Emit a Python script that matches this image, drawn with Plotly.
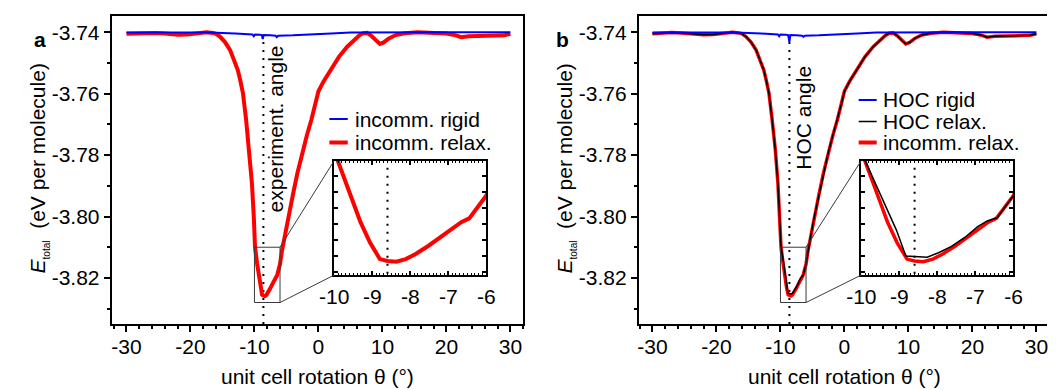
import plotly.graph_objects as go

W, H = 1056, 390
FONT = "Liberation Sans, Arial, sans-serif"
FS = 21

# ---------------- data ----------------
theta_relax = [-30, -28.5, -27, -25.5, -24, -22, -20.5, -19, -17.5, -16.5, -16.0,
               -15.4, -14.6, -13.8, -13.2, -12.6, -12.2, -11.8, -11.3, -10.8, -10.4,
               -10.1, -9.91, -9.57, -9.31, -9.06, -8.80, -8.60, -8.37, -8.12, -7.86,
               -7.52, -7.20, -6.92, -6.66, -6.45, -6.23, -6.0, -5.7, -5.2, -4.7, -4.0,
               -3.3, -2.5, -1.8, -1.1, -0.5, 0.0, 0.8, 1.9, 3.2, 4.5, 5.6, 6.4, 7.0,
               7.6, 8.3, 9.0, 9.6, 10.2, 11.0, 12.1, 13.5, 15.5, 18.0, 20.0, 21.5,
               22.3, 23.5, 25.0, 27.5, 29.0, 30.0]
e_relax = [-3.7405, -3.7403, -3.7401, -3.7402, -3.7404, -3.7408, -3.7407, -3.7403,
           -3.7400, -3.7402, -3.7405,
           -3.7414, -3.7432, -3.7458, -3.7488, -3.7523, -3.7558, -3.7598, -3.7685,
           -3.7783, -3.7890,
           -3.8000, -3.8100, -3.8155, -3.8197, -3.8229, -3.8255, -3.8258, -3.8259,
           -3.8255, -3.8247,
           -3.8234, -3.8220, -3.8208, -3.8197, -3.8191, -3.8173, -3.8155, -3.8112,
           -3.8055, -3.8000, -3.7930,
           -3.7860, -3.7790, -3.7735, -3.7685, -3.7635, -3.7592, -3.7560, -3.7523,
           -3.7480, -3.7447, -3.7425, -3.7410, -3.7403,
           -3.7402, -3.7412, -3.7428, -3.7438, -3.7433, -3.7420, -3.7409, -3.7403,
           -3.7400, -3.7401, -3.7404, -3.7410,
           -3.7416, -3.7413, -3.7412, -3.7412, -3.7410, -3.7405]

theta_hoc_relax = [-30, -28.5, -27, -25.5, -24, -22, -20.5, -19, -17.5, -16.5, -16.0,
                   -15.4, -14.6, -13.8, -13.2, -12.6, -12.2, -11.8, -11.3, -10.8, -10.4,
                   -10.1, -9.90, -9.43, -9.08, -8.83, -8.57, -8.27, -7.97, -7.63, -7.28,
                   -6.94, -6.69, -6.43, -6.0, -5.7, -5.2, -4.7, -4.0,
                   -3.3, -2.5, -1.8, -1.1, -0.5, 0.0, 0.8, 1.9, 3.2, 4.5, 5.6, 6.4, 7.0,
                   7.6, 8.3, 9.0, 9.6, 10.2, 11.0, 12.1, 13.5, 15.5, 18.0, 20.0, 21.5,
                   22.3, 23.5, 25.0, 27.5, 29.0, 30.0]
e_hoc_relax = [-3.7405, -3.7403, -3.7401, -3.7402, -3.7404, -3.7408, -3.7407, -3.7403,
               -3.7400, -3.7402, -3.7405,
               -3.7414, -3.7432, -3.7458, -3.7488, -3.7523, -3.7558, -3.7598, -3.7685,
               -3.7783, -3.7890,
               -3.8000, -3.8100, -3.8161, -3.8209, -3.8250, -3.8251, -3.8252, -3.8245,
               -3.8235, -3.8221,
               -3.8204, -3.8195, -3.8190, -3.8155, -3.8112, -3.8055, -3.8000, -3.7930,
               -3.7860, -3.7790, -3.7735, -3.7685, -3.7635, -3.7592, -3.7560, -3.7523,
               -3.7480, -3.7447, -3.7425, -3.7410, -3.7403,
               -3.7402, -3.7412, -3.7428, -3.7438, -3.7433, -3.7420, -3.7409, -3.7403,
               -3.7400, -3.7401, -3.7404, -3.7410,
               -3.7416, -3.7413, -3.7412, -3.7412, -3.7410, -3.7405]

theta_rigid = [-30, -20, -17, -13, -11, -10.3, -10.1, -9.9, -9.2, -8.85, -8.7, -8.55,
               -7.5, -6.7, -6.5, -6.3, -4.0, -1.0, 0.0, 0.2, 2.0, 5.0, 10.0, 20.0, 30.0]
e_rigid = [-3.7401, -3.7401, -3.7401, -3.7404, -3.7406, -3.7407, -3.7413, -3.7407,
           -3.7408, -3.7409, -3.7422, -3.7409, -3.7410, -3.7411, -3.7416, -3.7411,
           -3.7410, -3.7408, -3.7407, -3.7405, -3.7404, -3.7401, -3.7400, -3.7400,
           -3.7400]

theta_hoc_rigid = [-30, -20, -17, -13, -11, -10.4, -10.2, -10.0, -9.2, -8.8, -8.6, -8.45,
                   -7.5, -6.6, -6.4, -6.2, -4.0, -1.0, 0.0, 0.2, 2.0, 5.0, 10.0, 20.0, 30.0]
e_hoc_rigid = [-3.7401, -3.7401, -3.7401, -3.7404, -3.7406, -3.7407, -3.7413, -3.7407,
               -3.7408, -3.7409, -3.7431, -3.7409, -3.7410, -3.7411, -3.7415, -3.7411,
               -3.7410, -3.7408, -3.7407, -3.7405, -3.7404, -3.7401, -3.7400, -3.7400,
               -3.7400]

x_tickvals = [-30, -20, -10, 0, 10, 20, 30]
x_ticktext = ["-30", "-20", "-10", "0", "10", "20", "30"]
y_tickvals = [-3.74, -3.76, -3.78, -3.80, -3.82]
y_ticktext = ["-3.74", "-3.76", "-3.78", "-3.80", "-3.82"]
inset_x_tickvals = [-10, -9, -8, -7, -6]
inset_x_ticktext = ["-10", "-9", "-8", "-7", "-6"]
inset_x_range = [-10, -6]
inset_y_range = [-3.828, -3.810]
angle_a = -8.6
angle_b = -8.6

# ---------------- layout geometry (pixels) ----------------
main_y_px = (16, 324)           # top, bottom
inset_y_px = (160.5, 275)
panels = {
    "a": dict(x_px=(99, 520), xr=[-32.3, 32.0], inset_px=(326.7, 482.3), mirror_y=True),
    "b": dict(x_px=(638.3, 1056), xr=[-32.14, 31.66], inset_px=(866, 1021.7), mirror_y=False),
}
main_yr = [-3.835, -3.7347]


def xdom(p):
    return [p[0] / W, p[1] / W]


def ydom(p):
    return [1 - p[1] / H, 1 - p[0] / H]


def px_of(xval, xr, xpx):
    return xpx[0] + (xval - xr[0]) / (xr[1] - xr[0]) * (xpx[1] - xpx[0])


def py_of(yval, yr, ypx):
    return ypx[1] - (yval - yr[0]) / (yr[1] - yr[0]) * (ypx[1] - ypx[0])


fig = go.Figure()
tickfont = dict(family=FONT, size=FS, color="black")

ids = {"a": dict(m="", top="3", ins="5"), "b": dict(m="2", top="4", ins="6")}

layout = {}
for key, P in panels.items():
    m, t, i = ids[key]["m"], ids[key]["top"], ids[key]["ins"]
    xm, ym = "x" + m, "y" + m
    layout["xaxis" + m] = dict(
        domain=xdom(P["x_px"]), range=P["xr"], anchor=ym, showgrid=False, zeroline=False,
        showline=True, linewidth=2, linecolor="black", mirror=True,
        ticks="outside", ticklen=6, tickwidth=1.5, tickcolor="black",
        tickmode="array", tickvals=x_tickvals, ticktext=x_ticktext, tickfont=tickfont,
        ticklabelstandoff=-3,
        minor=dict(tickmode="linear", tick0=0, dtick=2, ticks="outside", ticklen=3,
                   tickwidth=1.5, tickcolor="black"),
    )
    layout["yaxis" + m] = dict(
        domain=ydom(main_y_px), range=main_yr, anchor=xm, showgrid=False, zeroline=False,
        showline=True, linewidth=2, linecolor="black", mirror=P["mirror_y"],
        ticks="outside", ticklen=6, tickwidth=1.5, tickcolor="black",
        tickmode="array", tickvals=y_tickvals, ticktext=y_ticktext, tickfont=tickfont,
        minor=dict(tickmode="linear", tick0=-3.74, dtick=0.01, ticks="outside", ticklen=3,
                   tickwidth=1.5, tickcolor="black"),
    )
    layout["xaxis" + t] = dict(
        overlaying=xm, side="top", anchor=ym, range=P["xr"], domain=xdom(P["x_px"]),
        showgrid=False, zeroline=False, showline=False, showticklabels=False,
        ticks="inside", ticklen=6, tickwidth=1.5, tickcolor="black",
        tickmode="array", tickvals=x_tickvals,
        minor=dict(tickmode="linear", tick0=0, dtick=2, ticks="inside", ticklen=3,
                   tickwidth=1.5, tickcolor="black"),
    )
    layout["yaxis" + t] = dict(
        overlaying=ym, side="right", anchor=xm, range=main_yr, domain=ydom(main_y_px),
        showgrid=False, zeroline=False, showline=False, showticklabels=False,
        ticks="inside", ticklen=6, tickwidth=1.5, tickcolor="black",
        tickmode="array", tickvals=y_tickvals,
        minor=dict(tickmode="linear", tick0=-3.74, dtick=0.01, ticks="inside", ticklen=3,
                   tickwidth=1.5, tickcolor="black"),
    )
    layout["xaxis" + i] = dict(
        domain=xdom(P["inset_px"]), range=inset_x_range, anchor="y" + i,
        showgrid=False, zeroline=False, showline=True, linewidth=2, linecolor="black",
        mirror="allticks", ticks="inside", ticklen=4, tickwidth=1.5, tickcolor="black",
        tickmode="array", tickvals=inset_x_tickvals, ticktext=inset_x_ticktext,
        tickfont=tickfont, ticklabelstandoff=2,
        minor=dict(tickmode="linear", tick0=-10, dtick=0.1, ticks="inside", ticklen=2,
                   tickwidth=1, tickcolor="black"),
    )
    layout["yaxis" + i] = dict(
        domain=ydom(inset_y_px), range=inset_y_range, anchor="x" + i,
        showgrid=False, zeroline=False, showline=True, linewidth=2, linecolor="black",
        mirror="allticks", ticks="inside", ticklen=4, tickwidth=1.5, tickcolor="black",
        tickmode="linear", tick0=-3.81, dtick=0.0025, showticklabels=False,
    )

# ---------------- traces ----------------
RED, BLUE, BLACK = "#ff0000", "#0000ff", "#000000"
for xa, ya in (("x", "y"), ("x5", "y5")):
    fig.add_trace(go.Scatter(x=theta_relax, y=e_relax, mode="lines", xaxis=xa, yaxis=ya,
                             line=dict(color=RED, width=4), showlegend=False,
                             name="incomm. relax."))
fig.add_trace(go.Scatter(x=theta_rigid, y=e_rigid, mode="lines", xaxis="x", yaxis="y",
                         line=dict(color=BLUE, width=2), showlegend=False,
                         name="incomm. rigid"))
for xa, ya in (("x2", "y2"), ("x6", "y6")):
    fig.add_trace(go.Scatter(x=theta_relax, y=e_relax, mode="lines", xaxis=xa, yaxis=ya,
                             line=dict(color=RED, width=3.5), showlegend=False,
                             name="incomm. relax."))
    fig.add_trace(go.Scatter(x=theta_hoc_relax, y=e_hoc_relax, mode="lines", xaxis=xa,
                             yaxis=ya, line=dict(color=BLACK, width=1.5), showlegend=False,
                             name="HOC relax."))
fig.add_trace(go.Scatter(x=theta_hoc_rigid, y=e_hoc_rigid, mode="lines", xaxis="x2",
                         yaxis="y2", line=dict(color=BLUE, width=2), showlegend=False,
                         name="HOC rigid"))

# ---------------- shapes & annotations ----------------
shapes = []
annotations = []
angles = {"a": angle_a, "b": angle_b}
for key, P in panels.items():
    m, i = ids[key]["m"], ids[key]["ins"]
    xm, ym = "x" + m, "y" + m
    ang = angles[key]
    shapes.append(dict(type="line", xref=xm, yref=ym, x0=ang, x1=ang, y0=main_yr[0],
                       y1=-3.7413, layer="below",
                       line=dict(color="black", width=2, dash="2px,6px")))
    shapes.append(dict(type="line", xref="x" + i, yref="y" + i, x0=ang, x1=ang,
                       y0=inset_y_range[0] + 0.0002, y1=inset_y_range[1] - 0.0008,
                       layer="below", line=dict(color="black", width=2, dash="2px,6px")))
    shapes.append(dict(type="rect", xref=xm, yref=ym, x0=inset_x_range[0],
                       x1=inset_x_range[1], y0=inset_y_range[0], y1=inset_y_range[1],
                       line=dict(color="#3a3a3a", width=1)))
    bx = px_of(inset_x_range[1], P["xr"], P["x_px"])
    for yv, ipy in ((inset_y_range[1], inset_y_px[0]), (inset_y_range[0], inset_y_px[1])):
        by = py_of(yv, main_yr, main_y_px)
        shapes.append(dict(type="line", xref="paper", yref="paper",
                           x0=bx / W, y0=1 - by / H, x1=P["inset_px"][0] / W,
                           y1=1 - ipy / H, line=dict(color="#3a3a3a", width=1)))
    cx = P["x_px"][0] + 210.5
    annotations.append(dict(text="unit cell rotation θ (°)", xref="paper", yref="paper",
                            x=cx / W, y=1 - 376 / H, showarrow=False,
                            xanchor="center", yanchor="middle",
                            font=dict(family=FONT, size=FS, color="black")))
    annotations.append(dict(
        text='<i>E</i><sub><span style="font-size:10px">total</span></sub>  (eV per molecule)',
        xref="paper", yref="paper", x=(P["x_px"][0] - 75) / W, y=1 - 168 / H,
        textangle=-90, showarrow=False, xanchor="center", yanchor="middle",
        font=dict(family=FONT, size=FS, color="black")))

annotations.append(dict(text="<b>a</b>", xref="paper", yref="paper", x=17 / W, y=1 - 26 / H,
                        showarrow=False, font=dict(family=FONT, size=FS, color="black")))
annotations.append(dict(text="<b>b</b>", xref="paper", yref="paper", x=560 / W, y=1 - 26 / H,
                        showarrow=False, font=dict(family=FONT, size=FS, color="black")))

annotations.append(dict(text="experiment. angle", xref="x", yref="y", x=angle_a,
                        y=-3.7715, xshift=12, textangle=-90, showarrow=False,
                        font=dict(family=FONT, size=FS, color="black")))
annotations.append(dict(text="HOC angle", xref="x2", yref="y2", x=angle_b,
                        y=-3.7677, xshift=14, textangle=-90, showarrow=False,
                        font=dict(family=FONT, size=FS, color="black")))

legend_items = [
    ((321.7, 340.5), 119, BLUE, 2, "incomm. rigid", 346),
    ((321.7, 340.5), 142.5, RED, 4, "incomm. relax.", 346),
    ((863.3, 881.7), 100, BLUE, 2, "HOC rigid", 886),
    ((863.3, 881.7), 121.5, BLACK, 1.5, "HOC relax.", 886),
    ((863.3, 881.7), 142.5, RED, 4, "incomm. relax.", 886),
]
for (x0, x1), yy, col, wd, label, tx in legend_items:
    shapes.append(dict(type="line", xref="paper", yref="paper", x0=x0 / W, x1=x1 / W,
                       y0=1 - yy / H, y1=1 - yy / H, line=dict(color=col, width=wd)))
    annotations.append(dict(text=label, xref="paper", yref="paper", x=tx / W, y=1 - yy / H,
                            xanchor="left", yanchor="middle", showarrow=False,
                            font=dict(family=FONT, size=FS, color="black")))

fig.update_layout(
    width=W, height=H, margin=dict(l=0, r=0, t=0, b=0),
    paper_bgcolor="white", plot_bgcolor="white", showlegend=False,
    font=dict(family=FONT, size=FS, color="black"),
    shapes=shapes, annotations=annotations, **layout,
)

fig.write_html("out.html", config={"displayModeBar": False},
               post_script="document.body.style.margin='0px';document.body.style.overflow='hidden';")
